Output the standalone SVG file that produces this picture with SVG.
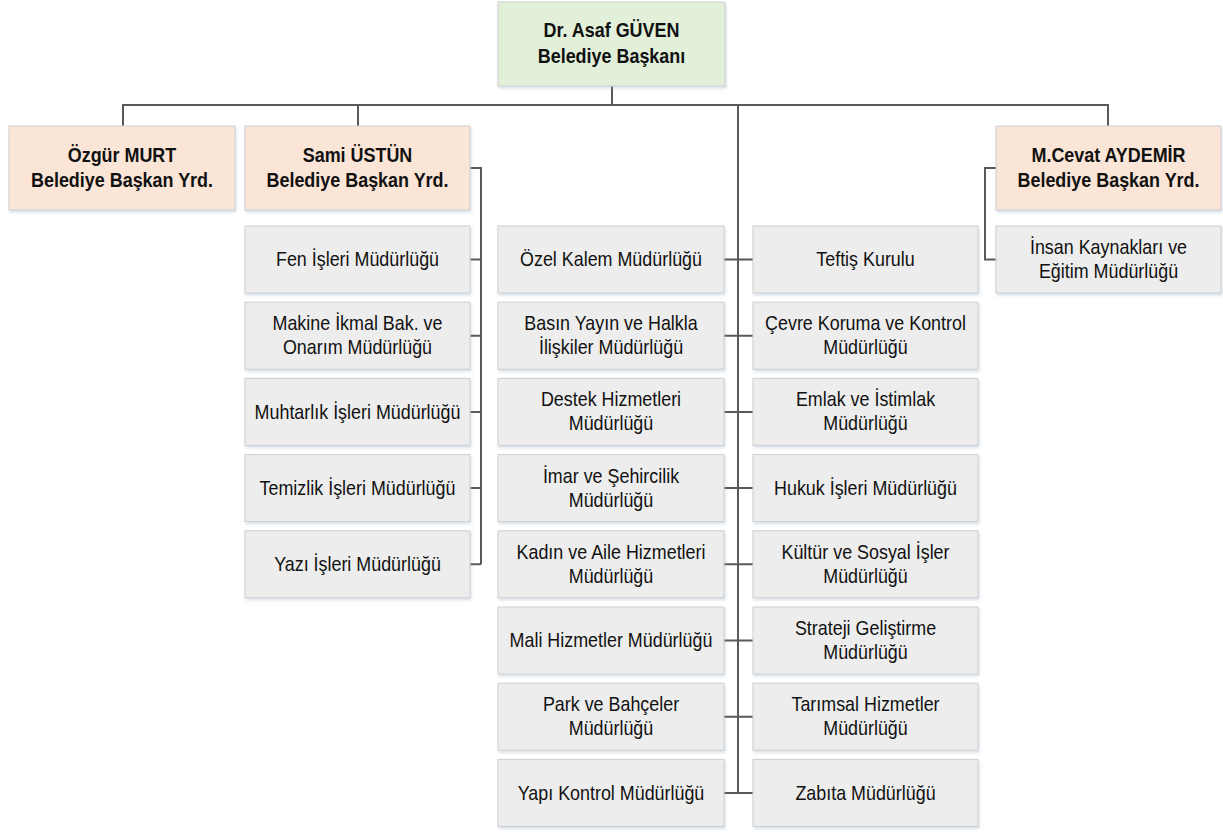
<svg xmlns="http://www.w3.org/2000/svg" width="1223" height="832" viewBox="0 0 1223 832">
<style>
.box{stroke:#cfcfcf;stroke-width:1;filter:url(#sh)}
.g{fill:#e2efd9}
.p{fill:#fbe5d6}
.s{fill:#ededed}
.t{font-family:"Liberation Sans",Arial,sans-serif;font-size:20px;fill:#111;text-anchor:middle}
.b{font-weight:bold;font-size:20.5px}
.c{fill:none;stroke:#595959;stroke-width:2}
</style>
<defs>
<filter id="sh" x="-5%" y="-10%" width="110%" height="125%">
<feDropShadow dx="1" dy="2" stdDeviation="1.5" flood-color="#8fa7c4" flood-opacity="0.35"/>
</filter>
</defs>
<rect width="1223" height="832" fill="#fff"/>
<g id="connectors" class="c">
<path d="M612 86V105.5M123 126V105H1108V126M358 105V126M738 105V793"/>
<path d="M470 168H481V564.3M470 259.5H481M470 335.7H481M470 411.9H481M470 488.1H481M470 564.3H481"/>
<path d="M724 259.5H753M724 335.7H753M724 411.9H753M724 488.1H753M724 564.3H753M724 640.5H753M724 716.7H753M724 792.9H753"/>
<path d="M996 168H985V259.5H996"/>
</g>
<g id="n-baskan"><rect class="box g" x="498" y="2" width="227" height="84"/><g transform="translate(611.5 0) scale(0.875 1)"><text class="t b" y="37.5">Dr. Asaf GÜVEN</text><text class="t b" y="63.5">Belediye Başkanı</text></g></g>
<g id="n-ozgur"><rect class="box p" x="9" y="126" width="226" height="84"/><g transform="translate(122 0) scale(0.875 1)"><text class="t b" y="162">Özgür MURT</text><text class="t b" y="187.5">Belediye Başkan Yrd.</text></g></g>
<g id="n-sami"><rect class="box p" x="245" y="126" width="225" height="84"/><g transform="translate(357.5 0) scale(0.875 1)"><text class="t b" y="162">Sami ÜSTÜN</text><text class="t b" y="187.5">Belediye Başkan Yrd.</text></g></g>
<g id="n-cevat"><rect class="box p" x="996" y="126" width="225" height="84"/><g transform="translate(1108.5 0) scale(0.875 1)"><text class="t b" y="162">M.Cevat AYDEMİR</text><text class="t b" y="187.5">Belediye Başkan Yrd.</text></g></g>
<g id="n-insan"><rect class="box s" x="996" y="226" width="225" height="67"/><g transform="translate(1108.5 0) scale(0.895 1)"><text class="t" y="254">İnsan Kaynakları ve</text><text class="t" y="278">Eğitim Müdürlüğü</text></g></g>

<g id="n-fen"><rect class="box s" x="245" y="226" width="225" height="67"/><g transform="translate(357.5 0) scale(0.895 1)"><text class="t" y="266.5">Fen İşleri Müdürlüğü</text></g></g>
<g id="n-makine"><rect class="box s" x="245" y="302.2" width="225" height="67"/><g transform="translate(357.5 0) scale(0.895 1)"><text class="t" y="330.2">Makine İkmal Bak. ve</text><text class="t" y="354.2">Onarım Müdürlüğü</text></g></g>
<g id="n-muhtarlik"><rect class="box s" x="245" y="378.4" width="225" height="67"/><g transform="translate(357.5 0) scale(0.895 1)"><text class="t" y="418.9">Muhtarlık İşleri Müdürlüğü</text></g></g>
<g id="n-temizlik"><rect class="box s" x="245" y="454.6" width="225" height="67"/><g transform="translate(357.5 0) scale(0.895 1)"><text class="t" y="495.1">Temizlik İşleri Müdürlüğü</text></g></g>
<g id="n-yazi"><rect class="box s" x="245" y="530.8" width="225" height="67"/><g transform="translate(357.5 0) scale(0.895 1)"><text class="t" y="571.3">Yazı İşleri Müdürlüğü</text></g></g>

<g id="n-ozel"><rect class="box s" x="498" y="226" width="226" height="67"/><g transform="translate(611 0) scale(0.895 1)"><text class="t" y="266.5">Özel Kalem Müdürlüğü</text></g></g>
<g id="n-basin"><rect class="box s" x="498" y="302.2" width="226" height="67"/><g transform="translate(611 0) scale(0.895 1)"><text class="t" y="330.2">Basın Yayın ve Halkla</text><text class="t" y="354.2">İlişkiler Müdürlüğü</text></g></g>
<g id="n-destek"><rect class="box s" x="498" y="378.4" width="226" height="67"/><g transform="translate(611 0) scale(0.895 1)"><text class="t" y="406.4">Destek Hizmetleri</text><text class="t" y="430.4">Müdürlüğü</text></g></g>
<g id="n-imar"><rect class="box s" x="498" y="454.6" width="226" height="67"/><g transform="translate(611 0) scale(0.895 1)"><text class="t" y="482.6">İmar ve Şehircilik</text><text class="t" y="506.6">Müdürlüğü</text></g></g>
<g id="n-kadin"><rect class="box s" x="498" y="530.8" width="226" height="67"/><g transform="translate(611 0) scale(0.895 1)"><text class="t" y="558.8">Kadın ve Aile Hizmetleri</text><text class="t" y="582.8">Müdürlüğü</text></g></g>
<g id="n-mali"><rect class="box s" x="498" y="607" width="226" height="67"/><g transform="translate(611 0) scale(0.895 1)"><text class="t" y="647.5">Mali Hizmetler Müdürlüğü</text></g></g>
<g id="n-park"><rect class="box s" x="498" y="683.2" width="226" height="67"/><g transform="translate(611 0) scale(0.895 1)"><text class="t" y="711.2">Park ve Bahçeler</text><text class="t" y="735.2">Müdürlüğü</text></g></g>
<g id="n-yapi"><rect class="box s" x="498" y="759.4" width="226" height="67"/><g transform="translate(611 0) scale(0.895 1)"><text class="t" y="799.9">Yapı Kontrol Müdürlüğü</text></g></g>

<g id="n-teftis"><rect class="box s" x="753" y="226" width="225" height="67"/><g transform="translate(865.5 0) scale(0.895 1)"><text class="t" y="266.5">Teftiş Kurulu</text></g></g>
<g id="n-cevre"><rect class="box s" x="753" y="302.2" width="225" height="67"/><g transform="translate(865.5 0) scale(0.895 1)"><text class="t" y="330.2">Çevre Koruma ve Kontrol</text><text class="t" y="354.2">Müdürlüğü</text></g></g>
<g id="n-emlak"><rect class="box s" x="753" y="378.4" width="225" height="67"/><g transform="translate(865.5 0) scale(0.895 1)"><text class="t" y="406.4">Emlak ve İstimlak</text><text class="t" y="430.4">Müdürlüğü</text></g></g>
<g id="n-hukuk"><rect class="box s" x="753" y="454.6" width="225" height="67"/><g transform="translate(865.5 0) scale(0.895 1)"><text class="t" y="495.1">Hukuk İşleri Müdürlüğü</text></g></g>
<g id="n-kultur"><rect class="box s" x="753" y="530.8" width="225" height="67"/><g transform="translate(865.5 0) scale(0.895 1)"><text class="t" y="558.8">Kültür ve Sosyal İşler</text><text class="t" y="582.8">Müdürlüğü</text></g></g>
<g id="n-strateji"><rect class="box s" x="753" y="607" width="225" height="67"/><g transform="translate(865.5 0) scale(0.895 1)"><text class="t" y="635">Strateji Geliştirme</text><text class="t" y="659">Müdürlüğü</text></g></g>
<g id="n-tarimsal"><rect class="box s" x="753" y="683.2" width="225" height="67"/><g transform="translate(865.5 0) scale(0.895 1)"><text class="t" y="711.2">Tarımsal Hizmetler</text><text class="t" y="735.2">Müdürlüğü</text></g></g>
<g id="n-zabita"><rect class="box s" x="753" y="759.4" width="225" height="67"/><g transform="translate(865.5 0) scale(0.895 1)"><text class="t" y="799.9">Zabıta Müdürlüğü</text></g></g>
</svg>
